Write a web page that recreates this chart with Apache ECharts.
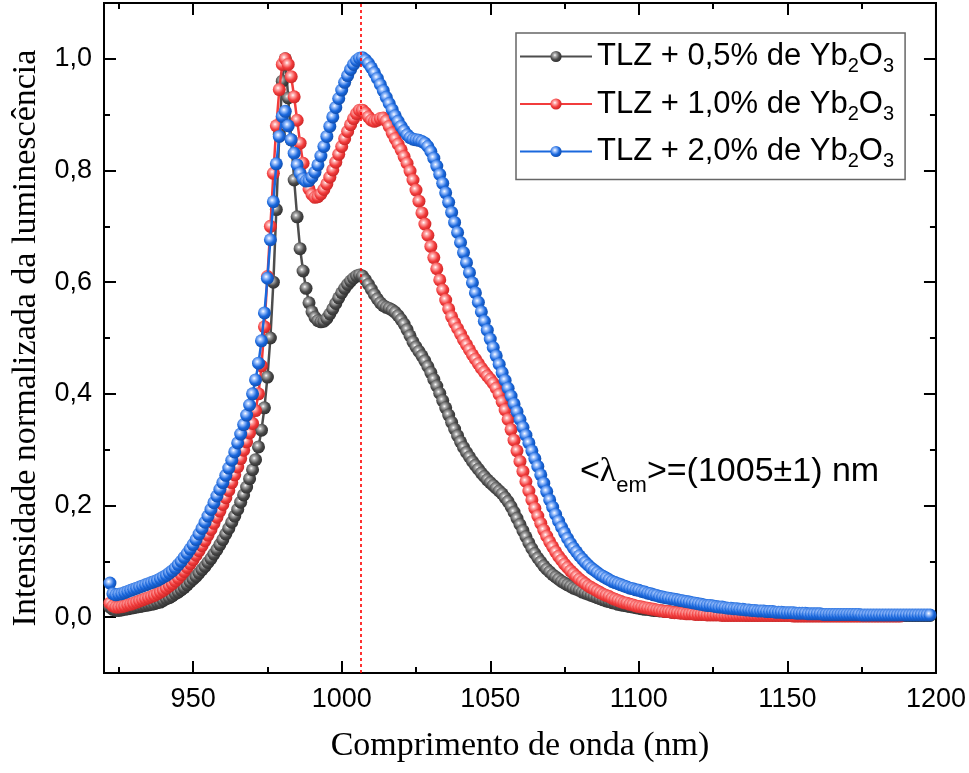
<!DOCTYPE html>
<html><head><meta charset="utf-8">
<script src="https://cdn.jsdelivr.net/npm/echarts@6/dist/echarts.min.js"></script>
<style>html,body{margin:0;padding:0;background:#fff}#c{width:969px;height:773px}</style>
</head><body><div id="c"></div>
<script>
// wavelength grid (nm): first sample and sampling step
const startNm = 922;
const stepNm = 1;

const seriesNames = ['TLZ + 0,5% de Yb2O3', 'TLZ + 1,0% de Yb2O3', 'TLZ + 2,0% de Yb2O3'];

// TLZ + 0,5% Yb2O3 (922..1198 nm)
const y05 = [
0.018,0.014,0.012,0.012,0.013,0.014,0.015,0.016,0.017,0.018,
0.019,0.020,0.021,0.022,0.023,0.024,0.026,0.027,0.030,0.033,
0.035,0.038,0.042,0.045,0.049,0.053,0.058,0.063,0.068,0.073,
0.079,0.085,0.091,0.098,0.105,0.113,0.121,0.130,0.139,0.149,
0.159,0.170,0.181,0.193,0.206,0.219,0.233,0.248,0.264,0.282,
0.305,0.335,0.375,0.430,0.500,0.600,0.730,0.865,0.960,1.000,
0.930,0.855,0.783,0.717,0.660,0.620,0.589,0.563,0.547,0.537,
0.531,0.529,0.530,0.535,0.543,0.552,0.562,0.572,0.581,0.589,
0.596,0.602,0.607,0.611,0.613,0.611,0.604,0.596,0.587,0.578,
0.570,0.563,0.558,0.555,0.553,0.550,0.546,0.540,0.533,0.525,
0.515,0.504,0.493,0.484,0.476,0.468,0.459,0.449,0.438,0.426,
0.414,0.401,0.388,0.375,0.362,0.349,0.337,0.325,0.314,0.304,
0.295,0.287,0.279,0.272,0.265,0.258,0.252,0.246,0.241,0.236,
0.231,0.226,0.221,0.214,0.207,0.198,0.188,0.177,0.166,0.155,
0.144,0.133,0.123,0.114,0.106,0.099,0.092,0.086,0.081,0.076,
0.072,0.068,0.064,0.061,0.058,0.055,0.052,0.050,0.048,0.045,
0.043,0.041,0.039,0.037,0.035,0.033,0.031,0.029,0.028,0.026,
0.025,0.023,0.022,0.021,0.020,0.019,0.018,0.017,0.016,0.015,
0.014,0.014,0.013,0.012,0.012,0.011,0.011,0.010,0.010,0.009,
0.009,0.009,0.008,0.008,0.008,0.007,0.007,0.007,0.007,0.006,
0.006,0.006,0.006,0.006,0.006,0.005,0.005,0.005,0.005,0.005,
0.005,0.005,0.005,0.005,0.004,0.004,0.004,0.004,0.004,0.004,
0.004,0.004,0.004,0.004,0.004,0.004,0.004,0.004,0.004,0.004,
0.004,0.004,0.004,0.004,0.003,0.003,0.003,0.003,0.003,0.003,
0.003,0.003,0.003,0.003,0.003,0.003,0.003,0.003,0.003,0.003,
0.003,0.003,0.003,0.003,0.003,0.003,0.003,0.003,0.003,0.003,
0.003,0.003,0.003,0.003,0.003,0.003,0.003,0.003,0.003,0.003,
0.003,0.003,0.003,0.003,0.003,0.003,0.003
];

// TLZ + 1,0% Yb2O3
const y10 = [
0.025,0.020,0.018,0.018,0.019,0.020,0.022,0.023,0.025,0.027,
0.029,0.031,0.033,0.035,0.037,0.039,0.042,0.045,0.048,0.052,
0.056,0.060,0.065,0.070,0.076,0.082,0.089,0.096,0.103,0.111,
0.119,0.128,0.137,0.147,0.157,0.168,0.179,0.190,0.202,0.214,
0.227,0.241,0.255,0.269,0.284,0.299,0.314,0.330,0.347,0.370,
0.400,0.450,0.520,0.610,0.700,0.795,0.880,0.945,0.990,1.000,
0.990,0.968,0.932,0.890,0.849,0.813,0.785,0.767,0.757,0.752,
0.753,0.758,0.766,0.776,0.788,0.801,0.815,0.829,0.843,0.857,
0.870,0.882,0.893,0.902,0.908,0.908,0.903,0.896,0.890,0.888,
0.890,0.893,0.894,0.889,0.879,0.867,0.857,0.847,0.837,0.825,
0.813,0.799,0.783,0.765,0.745,0.724,0.704,0.684,0.664,0.644,
0.624,0.604,0.586,0.568,0.552,0.538,0.527,0.517,0.507,0.497,
0.488,0.479,0.470,0.462,0.454,0.446,0.439,0.432,0.426,0.419,
0.410,0.399,0.386,0.371,0.354,0.336,0.317,0.298,0.279,0.261,
0.243,0.226,0.210,0.195,0.181,0.168,0.156,0.145,0.135,0.126,
0.117,0.109,0.102,0.095,0.089,0.083,0.078,0.073,0.068,0.064,
0.060,0.056,0.053,0.050,0.047,0.044,0.041,0.039,0.037,0.034,
0.032,0.030,0.028,0.026,0.025,0.023,0.022,0.020,0.019,0.018,
0.017,0.016,0.015,0.014,0.013,0.012,0.011,0.010,0.010,0.009,
0.008,0.008,0.007,0.007,0.006,0.006,0.006,0.005,0.005,0.005,
0.005,0.004,0.004,0.004,0.004,0.004,0.003,0.003,0.003,0.003,
0.003,0.003,0.003,0.003,0.003,0.003,0.003,0.003,0.003,0.003,
0.003,0.003,0.003,0.003,0.003,0.003,0.003,0.003,0.003,0.003,
0.002,0.002,0.002,0.002,0.002,0.002,0.002,0.002,0.002,0.002,
0.002,0.002,0.002,0.002,0.002,0.002,0.002,0.002,0.002,0.002,
0.002,0.002,0.002,0.002,0.002,0.002,0.002,0.002,0.002,0.002,
0.002,0.002,0.002,0.002,0.002,0.002,0.002
];

// TLZ + 2,0% Yb2O3
const y20 = [
0.061,0.042,0.040,0.041,0.042,0.044,0.046,0.048,0.050,0.052,
0.054,0.056,0.058,0.060,0.062,0.064,0.066,0.069,0.072,0.075,
0.079,0.083,0.088,0.094,0.100,0.107,0.114,0.122,0.130,0.139,
0.149,0.159,0.170,0.181,0.193,0.205,0.217,0.229,0.241,0.254,
0.267,0.281,0.296,0.312,0.328,0.345,0.362,0.380,0.400,0.425,
0.455,0.495,0.545,0.607,0.676,0.744,0.812,0.861,0.897,0.906,
0.880,0.855,0.831,0.810,0.795,0.785,0.781,0.782,0.788,0.797,
0.810,0.826,0.843,0.861,0.879,0.896,0.913,0.929,0.944,0.958,
0.970,0.981,0.990,0.997,1.001,1.002,0.998,0.992,0.984,0.975,
0.965,0.954,0.943,0.931,0.920,0.909,0.898,0.888,0.879,0.871,
0.864,0.859,0.856,0.855,0.854,0.852,0.849,0.843,0.834,0.822,
0.808,0.793,0.777,0.760,0.743,0.725,0.707,0.689,0.671,0.653,
0.635,0.617,0.599,0.581,0.564,0.547,0.530,0.514,0.498,0.483,
0.468,0.453,0.438,0.424,0.410,0.396,0.382,0.368,0.354,0.340,
0.326,0.312,0.298,0.284,0.270,0.255,0.240,0.225,0.210,0.197,
0.184,0.172,0.161,0.151,0.141,0.132,0.124,0.117,0.110,0.104,
0.098,0.093,0.088,0.084,0.080,0.076,0.073,0.070,0.067,0.064,
0.062,0.060,0.058,0.056,0.054,0.052,0.051,0.049,0.048,0.046,
0.045,0.043,0.042,0.040,0.039,0.037,0.036,0.035,0.034,0.033,
0.032,0.031,0.030,0.029,0.028,0.027,0.026,0.025,0.024,0.023,
0.022,0.021,0.021,0.020,0.019,0.018,0.018,0.017,0.016,0.016,
0.015,0.015,0.014,0.014,0.013,0.013,0.012,0.012,0.011,0.011,
0.011,0.010,0.010,0.010,0.009,0.009,0.009,0.008,0.008,0.008,
0.008,0.007,0.007,0.007,0.007,0.006,0.006,0.006,0.006,0.006,
0.005,0.005,0.005,0.005,0.005,0.005,0.005,0.005,0.005,0.005,
0.005,0.005,0.005,0.004,0.004,0.004,0.004,0.004,0.004,0.004,
0.004,0.004,0.004,0.004,0.004,0.004,0.004,0.004,0.004,0.004,
0.004,0.004,0.004,0.004,0.004,0.004,0.004
];

const xMajorTicks = [950, 1000, 1050, 1100, 1150, 1200];
const xMinorTicks = [925, 975, 1025, 1075, 1125, 1175];
const yMajorTicks = [0, 0.2, 0.4, 0.6, 0.8, 1.0];
const yMinorTicks = [0.1, 0.3, 0.5, 0.7, 0.9];
const emissionPeakNm = 1006.5;

const pairs = arr => arr.map((v, i) => [startNm + i * stepNm, v]);

function ball(light, base, dark) {
  return { type: 'radial', x: 0.4, y: 0.38, r: 0.65,
    colorStops: [
      { offset: 0, color: '#ffffff' },
      { offset: 0.2, color: light },
      { offset: 0.62, color: base },
      { offset: 1, color: dark }
    ] };
}
const styles = [
  { line: '#4d4d4d', fill: ball('#b0b0b0', '#4a4a4a', '#2e2e2e') },
  { line: '#f23c3c', fill: ball('#ffb0b0', '#f23c3c', '#c82424') },
  { line: '#1a68dd', fill: ball('#a8c8ff', '#1a68dd', '#0f4aa8') }
];
const dataSets = [y05, y10, y20];

const chart = echarts.init(document.getElementById('c'), null, { renderer: 'canvas' });

const axisFont = 'Liberation Sans, Arial, sans-serif';
const serifFont = 'Liberation Serif, Times New Roman, serif';
const fmtY = v => Number(v).toFixed(1).replace('.', ',');
const fmtX = v => String(Math.round(v));

function xAx(pos, ticks, len, labels) {
  return {
    type: 'value', min: 920, max: 1200, position: pos,
    axisLine: { show: true, onZero: false, lineStyle: { color: '#000', width: 2 } },
    axisTick: { show: true, inside: true, length: len, customValues: ticks, lineStyle: { color: '#000', width: 2 } },
    axisLabel: labels ? { show: true, customValues: ticks, formatter: fmtX, fontSize: 27, fontFamily: axisFont, color: '#000', margin: 13 } : { show: false },
    splitLine: { show: false }
  };
}
function yAx(pos, ticks, len, labels) {
  return {
    type: 'value', min: -0.1, max: 1.1, position: pos,
    axisLine: { show: true, onZero: false, lineStyle: { color: '#000', width: 2 } },
    axisTick: { show: true, inside: true, length: len, customValues: ticks, lineStyle: { color: '#000', width: 2 } },
    axisLabel: labels ? { show: true, customValues: ticks, formatter: fmtY, fontSize: 27, fontFamily: axisFont, color: '#000', margin: 12 } : { show: false },
    splitLine: { show: false }
  };
}

const xAxes = [xAx('bottom', xMajorTicks, 12, true), xAx('bottom', xMinorTicks, 6, false), xAx('top', xMajorTicks, 12, false), xAx('top', xMinorTicks, 6, false)];
xAxes[0].name = 'Comprimento de onda (nm)';
xAxes[0].nameLocation = 'middle';
xAxes[0].nameGap = 56;
xAxes[0].nameTextStyle = { fontSize: 34, fontFamily: serifFont, color: '#000' };
const yAxes = [yAx('left', yMajorTicks, 12, true), yAx('left', yMinorTicks, 6, false), yAx('right', yMajorTicks, 12, false), yAx('right', yMinorTicks, 6, false)];
yAxes[0].name = 'Intensidade normalizada da luminescência';
yAxes[0].nameLocation = 'middle';
yAxes[0].nameGap = 61;
yAxes[0].nameTextStyle = { fontSize: 34, fontFamily: serifFont, color: '#000' };

const series = dataSets.map((d, i) => ({
  name: seriesNames[i], type: 'line', xAxisIndex: 0, yAxisIndex: 0,
  data: pairs(d), symbol: 'circle', symbolSize: 13, showSymbol: true, showAllSymbol: true,
  color: styles[i].line,
  lineStyle: { color: styles[i].line, width: 2.5 },
  itemStyle: { color: styles[i].fill, borderWidth: 0 },
  emphasis: { disabled: true }, z: 2 + i, animation: false
}));
// vertical dotted marker of the mean emission wavelength, drawn on top of the blue series
series[2].markLine = {
  silent: true, symbol: ['none', 'none'], label: { show: false }, animation: false,
  lineStyle: { color: '#ff0000', type: [3, 3], width: 1.6, opacity: 1 },
  emphasis: { disabled: true },
  data: [{ xAxis: emissionPeakNm }]
};

const legendRich = {
  n: { fontSize: 31, fontFamily: axisFont, color: '#000', lineHeight: 30, verticalAlign: 'middle' },
  s: { fontSize: 20, fontFamily: axisFont, color: '#000', lineHeight: 20, verticalAlign: 'bottom', padding: [0, 0, -5, 0] }
};
const legendLabel = name => {
  const base = name.replace('Yb2O3', '');
  return '{n|' + base + 'Yb}{s|2}{n|O}{s|3}';
};

chart.setOption({
  backgroundColor: '#fff',
  animation: false,
  grid: { left: 104, right: 32, top: 3, bottom: 100, show: true, borderColor: '#000', borderWidth: 2, backgroundColor: 'transparent' },
  xAxis: xAxes,
  yAxis: yAxes,
  legend: {
    data: seriesNames, orient: 'vertical', left: 516, top: 33,
    padding: [8, 11, 8, 3], itemGap: 12, itemWidth: 72, itemHeight: 14,
    backgroundColor: '#fff', borderColor: '#666', borderWidth: 1.5,
    formatter: legendLabel, selectedMode: false,
    textStyle: { fontSize: 31, fontFamily: axisFont, color: '#000', rich: legendRich }
  },
  graphic: [{
    type: 'text', left: 580, top: 455, silent: true,
    style: {
      text: '{n|<}{l|λ}{s|em}{n|>=(1005±1) nm}',
      rich: {
        n: { fontSize: 34, fontFamily: axisFont, fill: '#000', lineHeight: 38, verticalAlign: 'middle' },
        l: { fontSize: 34, fontFamily: serifFont, fill: '#000', lineHeight: 38, verticalAlign: 'middle' },
        s: { fontSize: 22, fontFamily: axisFont, fill: '#000', lineHeight: 22, verticalAlign: 'bottom', padding: [0, 0, -6, 0] }
      }
    }
  }],
  series: series
});
</script></body></html>
